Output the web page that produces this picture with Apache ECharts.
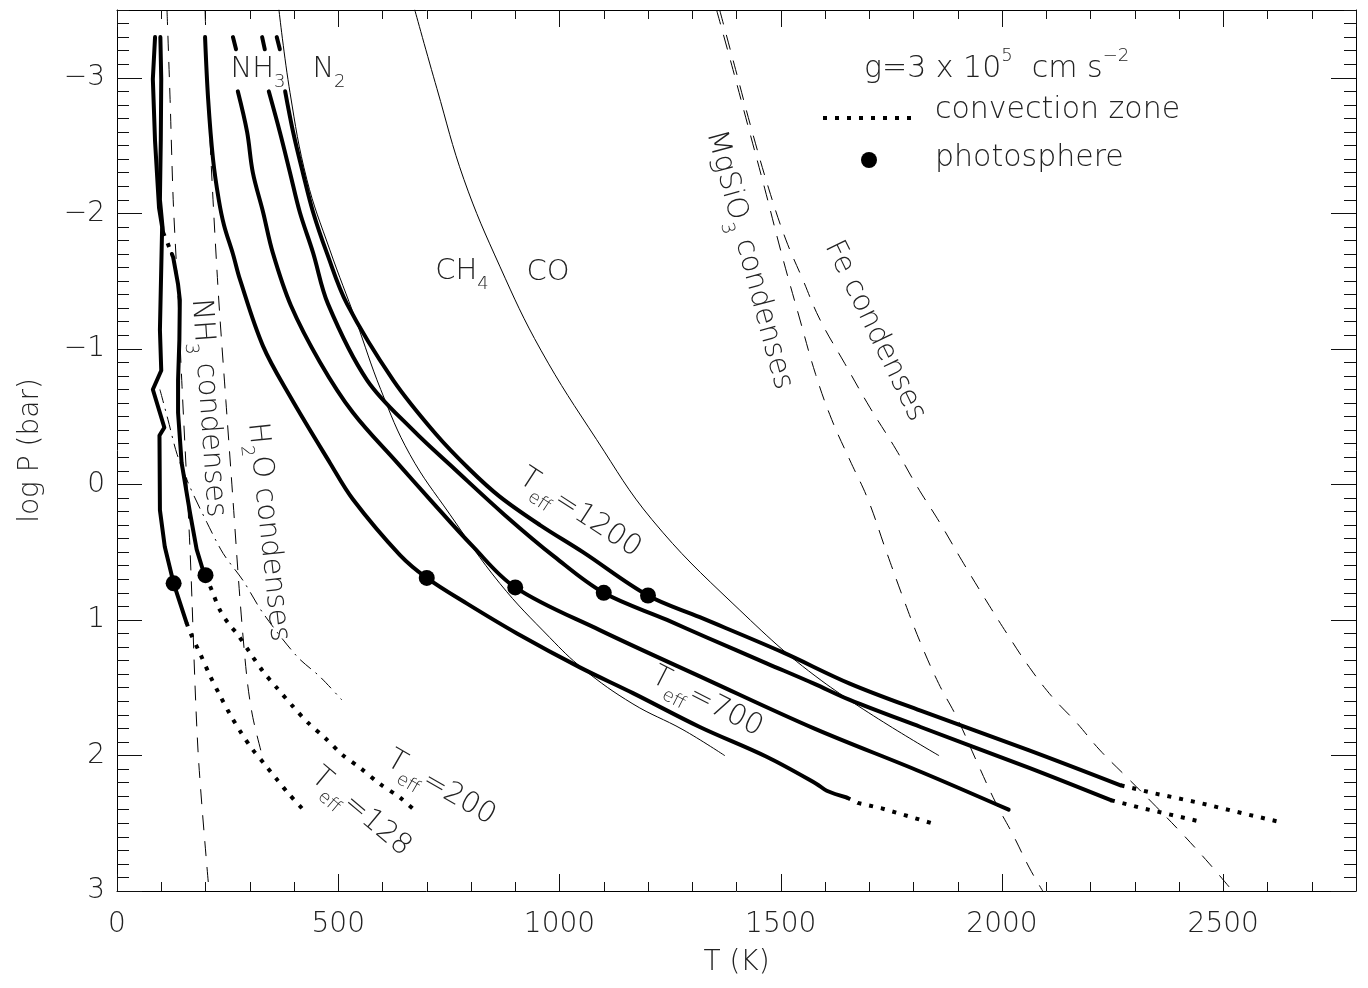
<!DOCTYPE html>
<html>
<head>
<meta charset="utf-8">
<script src="https://cdn.jsdelivr.net/npm/echarts@6/dist/echarts.min.js"></script>
<style>html,body{margin:0;padding:0;background:#fff}#chart{width:1368px;height:988px}</style>
</head>
<body>
<div id="chart"></div>
<script>
// ---- data: [T (K), log P (bar)] ----
const teff128 = [[86,-3.30],[81,-2.99],[86,-2.53],[95,-2.04],[102,-1.90],[97,-1.14],[100,-0.84],[81,-0.70],[107,-0.42],[96,-0.36],[97,0.19],[108,0.46],[128,0.73],[157,1.02]];
const teff128Conv = [[157,1.02],[165,1.09],[188,1.25],[210,1.41],[233,1.56],[256,1.70],[280,1.83],[305,1.95],[335,2.07],[362,2.18],[390,2.29],[418,2.39]];
const teff200Top = [[98,-3.30],[100,-2.99],[99,-2.55],[97,-2.10],[104,-1.86]];
const teff200ConvTop = [[104,-1.86],[113,-1.79],[124,-1.70]];
const teff200 = [[124,-1.70],[127,-1.675],[138,-1.475],[142,-1.36],[141,-1.07],[138,-0.77],[138,-0.53],[146,-0.16],[165,0.21],[180,0.48],[194,0.63],[200,0.67]];
const teff200Conv = [[200,0.67],[214,0.78],[233,0.93],[255,1.04],[271,1.10],[300,1.24],[330,1.38],[361,1.50],[398,1.64],[432,1.76],[470,1.87],[511,2.00],[549,2.09],[594,2.21],[639,2.31],[678,2.42]];
const teff700 = [[199,-3.30],[206,-2.84],[217,-2.40],[230,-2.10],[242,-1.91],[262,-1.70],[278,-1.51],[330,-1.02],[391,-0.65],[481,-0.16],[533,0.11],[639,0.52],[700,0.69],[791,0.88],[904,1.10],[1046,1.35],[1166,1.54],[1317,1.79],[1468,2.01],[1581,2.21],[1604,2.26],[1649,2.31]];
const teff700Conv = [[1649,2.31],[1674,2.35],[1728,2.39],[1780,2.44],[1852,2.51]];
const teff900Top = [[262,-3.30],[269,-3.21]];
const teff900 = [[273,-2.90],[294,-2.60],[307,-2.30],[330,-2.01],[352,-1.71],[393,-1.32],[459,-0.90],[533,-0.53],[633,-0.16],[707,0.11],[802,0.45],[900,0.76],[1091,1.075],[1333,1.44],[1575,1.80],[1816,2.12],[2015,2.40]];
const teff1100Top = [[328,-3.30],[334,-3.21]];
const teff1100 = [[343,-2.90],[368,-2.60],[391,-2.30],[413,-2.01],[443,-1.71],[477,-1.33],[565,-0.77],[669,-0.40],[764,-0.11],[876,0.225],[989,0.535],[1100,0.80],[1243,1.00],[1333,1.13],[1468,1.32],[1575,1.47],[1656,1.59],[1816,1.79],[2060,2.09],[2246,2.33]];
const teff1100Conv = [[2246,2.33],[2318,2.39],[2372,2.43],[2451,2.49]];
const teff1200Top = [[361,-3.30],[368,-3.21]];
const teff1200 = [[380,-2.90],[398,-2.60],[420,-2.30],[443,-2.01],[474,-1.71],[520,-1.33],[624,-0.77],[721,-0.37],[797,-0.11],[865,0.09],[956,0.30],[1053,0.50],[1200,0.82],[1317,0.98],[1505,1.24],[1656,1.47],[1816,1.67],[2060,1.96],[2268,2.22]];
const teff1200Conv = [[2268,2.22],[2345,2.28],[2447,2.35],[2548,2.43],[2627,2.49]];
const photosphere = [[128,0.73],[200,0.67],[700,0.69],[900,0.76],[1100,0.80],[1200,0.82]];
const nh3n2Boundary = [[366,-3.50],[391,-2.89],[429,-2.25],[481,-1.73],[540,-1.21],[596,-0.70],[662,-0.22],[752,0.22],[865,0.73],[978,1.13],[1053,1.36],[1166,1.62],[1279,1.81],[1373,2.00]];
const ch4coBoundary = [[673,-3.50],[723,-2.92],[784,-2.25],[865,-1.61],[958,-0.99],[1084,-0.33],[1209,0.26],[1392,0.88],[1593,1.45],[1857,2.00]];
const nh3Condense = [[113,-3.50],[120,-2.84],[127,-2.10],[136,-1.51],[147,-0.72],[165,0.48],[183,1.96],[208,3.00]];
const h2oCondense = [[199,-3.50],[206,-2.84],[217,-2.10],[230,-1.36],[246,-0.62],[262,0.11],[278,0.85],[294,1.44],[307,1.72],[328,2.00]];
const dashDotCurve = [[97,-0.70],[115,-0.48],[136,-0.22],[165,0.02],[203,0.28],[240,0.51],[285,0.71],[330,0.95],[407,1.27],[459,1.42],[508,1.59]];
const mgsio3Condense = [[1355,-3.50],[1392,-3.06],[1428,-2.62],[1464,-2.18],[1502,-1.70],[1543,-1.22],[1579,-0.81],[1615,-0.48],[1656,-0.18],[1697,0.11],[1737,0.48],[1778,0.85],[1816,1.17],[1857,1.47],[1898,1.72],[1945,2.06],[1986,2.35],[2024,2.58],[2062,2.83],[2092,3.00]];
const feCondense = [[1362,-3.50],[1398,-3.06],[1434,-2.62],[1473,-2.18],[1511,-1.81],[1550,-1.51],[1588,-1.22],[1645,-0.89],[1701,-0.57],[1760,-0.26],[1809,0.02],[1859,0.28],[1909,0.56],[1961,0.84],[2013,1.11],[2062,1.35],[2114,1.57],[2169,1.76],[2221,1.96],[2282,2.16],[2340,2.35],[2408,2.58],[2469,2.80],[2521,3.00]];
const yMajorTicks = [-3,-2,-1,0,1,2,3];
const xMajorTicks = [0,500,1000,1500,2000,2500];

// ---- styling ----
const FONT = '"DejaVu Sans", "Liberation Sans", sans-serif';
const TXT = '#222';
const FW = 200;

function lineSeries(data, width, type, smooth) {
  return {
    type: 'line', data: data, xAxisIndex: 0, yAxisIndex: 0,
    showSymbol: false, symbol: 'none', smooth: smooth || false,
    silent: true, animation: false, z: width >= 3 ? 5 : 3,
    lineStyle: { color: '#000', width: width, type: type || 'solid', cap: type && type !== 'solid' ? 'butt' : 'round', join: 'round' }
  };
}
const DOTS = [4, 8];
const DASH = [15, 11];
const DASHDOT = [14, 6, 2, 6];

const series = [
  lineSeries(teff128, 4, 'solid'),
  lineSeries(teff128Conv, 4, DOTS, 0.3),
  lineSeries(teff200Top, 4, 'solid'),
  lineSeries(teff200ConvTop, 4, DOTS),
  lineSeries(teff200, 4, 'solid'),
  lineSeries(teff200Conv, 4, DOTS, 0.3),
  lineSeries(teff700, 4, 'solid', 0.35),
  lineSeries(teff700Conv, 4, DOTS),
  lineSeries(teff900Top, 4, 'solid'),
  lineSeries(teff900, 4, 'solid', 0.35),
  lineSeries(teff1100Top, 4, 'solid'),
  lineSeries(teff1100, 4, 'solid', 0.35),
  lineSeries(teff1100Conv, 4, DOTS),
  lineSeries(teff1200Top, 4, 'solid'),
  lineSeries(teff1200, 4, 'solid', 0.35),
  lineSeries(teff1200Conv, 4, DOTS),
  lineSeries(nh3n2Boundary, 1, 'solid', 0.4),
  lineSeries(ch4coBoundary, 1, 'solid', 0.4),
  lineSeries(nh3Condense, 1, DASH, 0.3),
  lineSeries(h2oCondense, 1, DASH, 0.3),
  lineSeries(dashDotCurve, 1, DASHDOT, 0.3),
  lineSeries(mgsio3Condense, 1, DASH, 0.4),
  lineSeries(feCondense, 1, DASH, 0.4),
  { type: 'scatter', data: photosphere, xAxisIndex: 0, yAxisIndex: 0, symbol: 'circle', symbolSize: 16,
    itemStyle: { color: '#000', opacity: 1 }, z: 6, silent: true, animation: false }
];

const tickFont = { fontSize: 28, fontFamily: FONT, fontWeight: FW, color: TXT };

function xAxisDef(pos, interval, tickLen, showLine, labels) {
  return {
    type: 'value', position: pos, min: 0, max: 2800, interval: interval,
    axisLine: { show: showLine, onZero: false, lineStyle: { color: '#000', width: 1 } },
    axisTick: { show: true, inside: true, length: tickLen, lineStyle: { color: '#111', width: 1 } },
    axisLabel: labels ? Object.assign({ show: true, margin: 20, lineHeight: 28,
      formatter: v => (xMajorTicks.indexOf(v) >= 0 ? String(v) : '') }, tickFont) : { show: false },
    splitLine: { show: false },
    name: labels ? 'T (K)' : '', nameLocation: 'middle', nameGap: 58,
    nameTextStyle: Object.assign({ lineHeight: 28 }, tickFont)
  };
}
function yAxisDef(pos, minor, showLine, labels) {
  const ax = {
    type: 'value', position: pos, min: -3.5, max: 3, inverse: true,
    axisLine: { show: showLine, onZero: false, lineStyle: { color: '#000', width: 1 } },
    splitLine: { show: false },
    name: labels ? 'log P (bar)' : '', nameLocation: 'middle', nameGap: 72,
    nameTextStyle: Object.assign({ lineHeight: 28 }, tickFont)
  };
  if (minor) {
    ax.interval = 0.1;
    ax.axisTick = { show: true, inside: true, length: 12, lineStyle: { color: '#111', width: 1 } };
    ax.axisLabel = { show: false };
  } else {
    ax.interval = 0.5;
    ax.axisTick = { show: true, inside: true, length: 25, customValues: yMajorTicks, lineStyle: { color: '#111', width: 1 } };
    ax.axisLabel = labels ? Object.assign({ show: true, margin: 12, customValues: yMajorTicks,
      formatter: v => (v < 0 ? '\u2212' + Math.abs(v) : String(v)) }, tickFont) : { show: false };
  }
  return ax;
}

// rich text for sub/superscripts
function richSet(size) {
  return {
    m: { fontSize: size, lineHeight: 44, fontFamily: FONT, fontWeight: FW, color: TXT },
    b: { fontSize: 18, lineHeight: 18, verticalAlign: 'bottom', fontFamily: FONT, fontWeight: FW, color: TXT },
    p: { fontSize: 18, lineHeight: 18, verticalAlign: 'top', fontFamily: FONT, fontWeight: FW, color: TXT }
  };
}
function label(text, x, y, deg, align, size) {
  return {
    type: 'text', x: x, y: y, rotation: -deg * Math.PI / 180, silent: true, z: 10,
    style: { text: text, rich: richSet(size || 29), align: align || 'center', verticalAlign: 'middle',
      fontSize: size || 29, fontFamily: FONT, fontWeight: FW, fill: TXT }
  };
}

const graphics = [
  label('{m|NH}{b|3}', 258, 69, 0),
  label('{m|N}{b|2}', 329, 69, 0),
  label('{m|CH}{b|4}', 462, 271, 0),
  label('{m|CO}', 548, 272, 0),
  label('{m|NH}{b|3}{m| condenses}', 208, 408, 86),
  label('{m|H}{b|2}{m|O condenses}', 268, 532, 84),
  label('{m|MgSiO}{b|3}{m| condenses}', 749, 260, 75),
  label('{m|Fe condenses}', 875, 331, 64),
  label('{m|T}{b|eff}{m|=1200}', 580, 513, 33),
  label('{m|T}{b|eff}{m|=700}', 707, 702, 27),
  label('{m|T}{b|eff}{m|=200}', 441, 788, 30),
  label('{m|T}{b|eff}{m|=128}', 361, 812, 40),
  label('{m|g=3 x 10}{p|5}{m|  cm s}{p|\u22122}', 864, 69, 0, 'left', 30),
  label('{m|convection zone}', 935, 110, 0, 'left', 30),
  label('{m|photosphere}', 935, 158, 0, 'left', 30),
  { type: 'line', silent: true, z: 10, shape: { x1: 823, y1: 118, x2: 911, y2: 118 },
    style: { stroke: '#000', lineWidth: 4, lineDash: DOTS } },
  { type: 'circle', silent: true, z: 10, shape: { cx: 869, cy: 160, r: 8 }, style: { fill: '#000' } }
];

const option = {
  animation: false,
  backgroundColor: '#fff',
  grid: { left: 117, right: 12, top: 10, bottom: 97, containLabel: false },
  xAxis: [
    xAxisDef('bottom', 500, 17, true, true),
    xAxisDef('bottom', 100, 9, false, false),
    xAxisDef('top', 500, 17, true, false),
    xAxisDef('top', 100, 9, false, false)
  ],
  yAxis: [
    yAxisDef('left', false, true, true),
    yAxisDef('left', true, false, false),
    yAxisDef('right', false, true, false),
    yAxisDef('right', true, false, false)
  ],
  series: series,
  graphic: graphics
};

const chart = echarts.init(document.getElementById('chart'), null, { renderer: 'canvas' });
chart.setOption(option);
</script>
</body>
</html>
